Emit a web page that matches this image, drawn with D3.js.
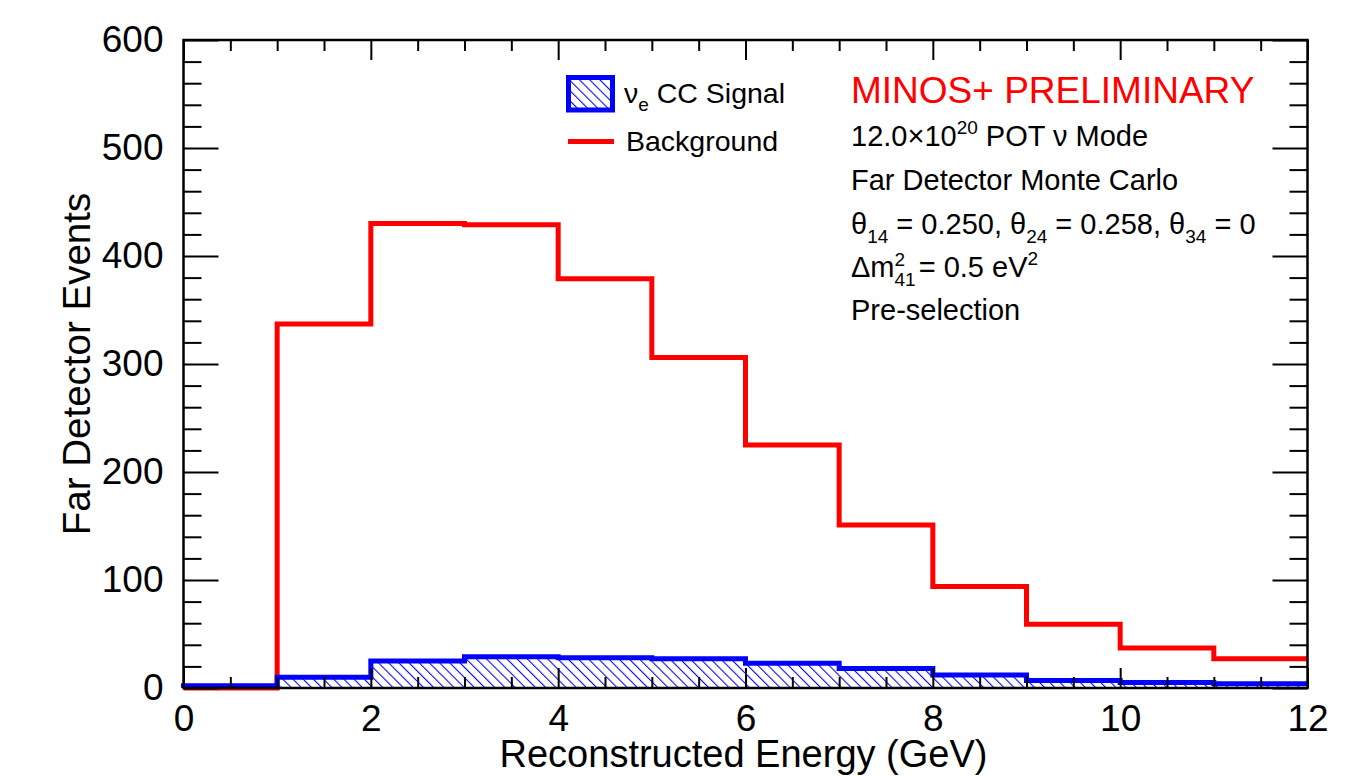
<!DOCTYPE html>
<html>
<head>
<meta charset="UTF-8">
<title>Far Detector Events</title>
<script src="https://cdn.jsdelivr.net/npm/d3@7"></script>
<style>
  body { margin: 0; background: #fff; }
  text { font-family: "Liberation Sans", Arial, Helvetica, sans-serif; }
</style>
</head>
<body>
<script>
// bin edges in GeV (1 GeV bins from 0 to 12)
var binEdges = [0, 1, 2, 3, 4, 5, 6, 7, 8, 9, 10, 11, 12];
// expected events per bin
var background = [0, 337, 430, 429, 379, 306, 225, 151, 94, 59, 37, 27];
var signal = [2, 10, 25, 29, 28, 27, 23, 18, 12, 7, 5, 4];

var xMajor = [0, 2, 4, 6, 8, 10, 12];
var yMajor = [0, 100, 200, 300, 400, 500, 600];

var width = 1361, height = 776;
// frame edges (note: "top" is reserved on window, so use a prefix)
var fLeft = 183.5, fRight = 1307.5, fTop = 40, fBottom = 688;

var svg = d3.select("body").append("svg")
  .attr("width", width)
  .attr("height", height);

var defs = svg.append("defs");
// ROOT style "\\\" hatch
defs.append("pattern")
  .attr("id", "hatch")
  .attr("patternUnits", "userSpaceOnUse")
  .attr("width", 7.2)
  .attr("height", 7.2)
  .attr("patternTransform", "rotate(-45)")
  .append("line")
  .attr("x1", 0.5).attr("y1", 0)
  .attr("x2", 0.5).attr("y2", 7.2)
  .attr("stroke", "#0000ff")
  .attr("stroke-width", 1.1);

var x = d3.scaleLinear().domain([0, 12]).range([fLeft, fRight]);
var y = d3.scaleLinear().domain([0, 600]).range([fBottom, fTop]);

// step outline of a histogram, starting from the baseline at the first edge
function stepLine(vals) {
  var p = d3.path();
  p.moveTo(x(binEdges[0]), y(0));
  vals.forEach(function(v, i) {
    p.lineTo(x(binEdges[i]), y(v));
    p.lineTo(x(binEdges[i + 1]), y(v));
  });
  return p.toString();
}
function stepArea(vals) {
  return stepLine(vals) + "L" + x(binEdges[binEdges.length - 1]) + "," + y(0) + "Z";
}

var plot = svg.append("g");

// background (red)
plot.append("path")
  .attr("d", stepLine(background))
  .attr("fill", "none")
  .attr("stroke", "#ff0000")
  .attr("stroke-width", 5)
  .attr("stroke-linejoin", "miter");

// signal (blue hatched)
plot.append("path")
  .attr("d", stepArea(signal))
  .attr("fill", "url(#hatch)")
  .attr("stroke", "none");
plot.append("path")
  .attr("d", stepLine(signal))
  .attr("fill", "none")
  .attr("stroke", "#0000ff")
  .attr("stroke-width", 5)
  .attr("stroke-linejoin", "miter");

// axes
var xMinor = d3.range(0, 12.01, 0.5).filter(function(v) { return v % 2 !== 0; });
var yMinor = d3.range(0, 600.1, 20).filter(function(v) { return v % 100 !== 0; });

function styleAxis(g, labels) {
  g.select(".domain").remove();
  g.selectAll(".tick line").attr("stroke", "#000").attr("stroke-width", 2);
  if (!labels) g.selectAll(".tick text").remove();
  else g.selectAll(".tick text").attr("fill", "#000").style("font-size", "37px");
}

svg.append("g").attr("transform", "translate(0," + fBottom + ")")
  .call(d3.axisBottom(x).tickValues(xMajor).tickSize(-20).tickPadding(17).tickFormat(d3.format("d")))
  .call(styleAxis, true);
svg.append("g").attr("transform", "translate(0," + fBottom + ")")
  .call(d3.axisBottom(x).tickValues(xMinor).tickSize(-11))
  .call(styleAxis, false);
svg.append("g").attr("transform", "translate(0," + fTop + ")")
  .call(d3.axisTop(x).tickValues(xMajor).tickSize(-20))
  .call(styleAxis, false);
svg.append("g").attr("transform", "translate(0," + fTop + ")")
  .call(d3.axisTop(x).tickValues(xMinor).tickSize(-11))
  .call(styleAxis, false);

svg.append("g").attr("transform", "translate(" + fLeft + ",0)")
  .call(d3.axisLeft(y).tickValues(yMajor).tickSize(-35).tickPadding(20).tickFormat(d3.format("d")))
  .call(styleAxis, true);
svg.append("g").attr("transform", "translate(" + fLeft + ",0)")
  .call(d3.axisLeft(y).tickValues(yMinor).tickSize(-18))
  .call(styleAxis, false);
svg.append("g").attr("transform", "translate(" + fRight + ",0)")
  .call(d3.axisRight(y).tickValues(yMajor).tickSize(-35))
  .call(styleAxis, false);
svg.append("g").attr("transform", "translate(" + fRight + ",0)")
  .call(d3.axisRight(y).tickValues(yMinor).tickSize(-18))
  .call(styleAxis, false);

// frame
svg.append("rect")
  .attr("x", fLeft).attr("y", fTop)
  .attr("width", fRight - fLeft).attr("height", fBottom - fTop)
  .attr("fill", "none")
  .attr("stroke", "#000")
  .attr("stroke-width", 2.5);

// axis titles
svg.append("text")
  .attr("x", (fLeft + fRight) / 2 - 2)
  .attr("y", 767)
  .attr("text-anchor", "middle")
  .style("font-size", "38px")
  .text("Reconstructed Energy (GeV)");
svg.append("text")
  .attr("transform", "translate(90," + (fTop + fBottom) / 2 + ") rotate(-90)")
  .attr("text-anchor", "middle")
  .style("font-size", "38.5px")
  .text("Far Detector Events");

// legend
var leg = svg.append("g");
leg.append("rect")
  .attr("x", 568.5).attr("y", 77.5)
  .attr("width", 44).attr("height", 32.5)
  .attr("fill", "url(#hatch)")
  .attr("stroke", "#0000ff")
  .attr("stroke-width", 5);
var t1 = leg.append("text").attr("x", 624).attr("y", 102.5).style("font-size", "28.5px");
t1.append("tspan").text("\u03bd");
t1.append("tspan").attr("dy", 8).style("font-size", "19px").text("e");
t1.append("tspan").attr("dy", -8).text(" CC Signal");
leg.append("line")
  .attr("x1", 568).attr("x2", 614)
  .attr("y1", 141.5).attr("y2", 141.5)
  .attr("stroke", "#ff0000")
  .attr("stroke-width", 5);
leg.append("text").attr("x", 626).attr("y", 150.5).style("font-size", "28.5px").text("Background");

// info text
var info = svg.append("g");
var tx = 851;
info.append("text").attr("x", tx).attr("y", 102.5)
  .attr("fill", "#ff0000").style("font-size", "37px")
  .text("MINOS+ PRELIMINARY");

var l1 = info.append("text").attr("x", tx).attr("y", 146).style("font-size", "29px");
l1.append("tspan").text("12.0\u00d710");
l1.append("tspan").attr("dy", -12).style("font-size", "19px").text("20");
l1.append("tspan").attr("dy", 12).text(" POT \u03bd Mode");

info.append("text").attr("x", tx).attr("y", 190).style("font-size", "29px")
  .text("Far Detector Monte Carlo");

var l3 = info.append("text").attr("x", tx).attr("y", 233.5).style("font-size", "29px");
[["14", " = 0.250, "], ["24", " = 0.258, "], ["34", " = 0"]].forEach(function(p) {
  l3.append("tspan").text("\u03b8");
  l3.append("tspan").attr("dy", 9).style("font-size", "19px").text(p[0]);
  l3.append("tspan").attr("dy", -9).text(p[1]);
});

var l4 = info.append("text").attr("x", tx).attr("y", 277).style("font-size", "29px");
l4.append("tspan").text("\u0394m");
l4.append("tspan").attr("dy", -11).style("font-size", "19px").text("2");
l4.append("tspan").attr("dx", -10.6).attr("dy", 20).style("font-size", "19px").text("41");
l4.append("tspan").attr("dx", 3).attr("dy", -9).text("= 0.5 eV");
l4.append("tspan").attr("dy", -12).style("font-size", "19px").text("2");

info.append("text").attr("x", tx).attr("y", 320).style("font-size", "29px")
  .text("Pre-selection");
</script>
</body>
</html>
